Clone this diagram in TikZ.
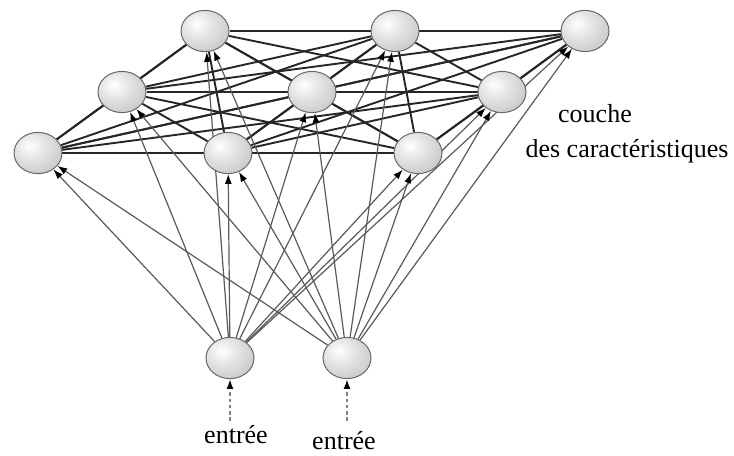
\documentclass[tikz,border=0pt]{standalone}
\usepackage{fontspec}
\setmainfont{Liberation Serif}
\usetikzlibrary{shapes.geometric,arrows.meta,backgrounds}

% shaded ball for the neurons
\pgfdeclareradialshading{boule}{\pgfpoint{-9bp}{9bp}}{%
  color(0bp)=(white); color(16bp)=(gray!22); color(32bp)=(gray!40);
  color(46bp)=(gray!60); color(100bp)=(gray!60)}

\begin{document}
\begin{tikzpicture}[x=0.025cm,y=-0.025cm,
  neurone/.style={ellipse,shading=boule,draw=gray!80!black,line width=0.7pt,
    minimum width=1.2cm,minimum height=1.03cm,inner sep=0pt},
  lien/.style={black!85,line width=1.35pt},
  fleche/.style={black!65,line width=0.85pt,-{Latex[length=7pt,width=5pt,black]}},
  texte/.style={font=\fontsize{18.5}{22}\selectfont}]
	\useasboundingbox (0,0) rectangle (734,455);

	% feature layer, three rows of three
	\foreach \n/\x/\y in {a1/205/31, a2/395/31, a3/585/31,
	                      b1/122/92, b2/312/92, b3/502/92,
	                      c1/38/153, c2/228/153, c3/418/153}
		\node[neurone] (\n) at (\x,\y) {};

	% input neurons
	\node[neurone] (e1) at (230,358) {};
	\node[neurone] (e2) at (347,358) {};
	\coordinate (s1) at (230,421);
	\coordinate (s2) at (347,421);

	\begin{pgfonlayer}{background}
		% lateral links inside the feature layer
		\foreach \u [count=\i] in {a1,a2,a3,b1,b2,b3,c1,c2,c3}{
			\foreach \v [count=\j] in {a1,a2,a3,b1,b2,b3,c1,c2,c3}{
				\ifnum\j>\i \draw[lien] (\u) -- (\v); \fi
			}
		}
		% every input feeds every feature
		\foreach \e in {e1,e2}
			\foreach \n in {a1,a2,a3,b1,b2,b3,c1,c2,c3}
				\draw[fleche] (\e) -- (\n);
	\end{pgfonlayer}

	\draw[fleche,black!50,line width=1.3pt,dash pattern=on 2.5pt off 2pt] (s1) -- (e1);
	\draw[fleche,black!50,line width=1.3pt,dash pattern=on 2.5pt off 2pt] (s2) -- (e2);

	\node[texte] (t1) at (236,435) {entrée};
	\node[texte] (t2) at (344,441) {entrée};
	\node[texte] (couche) at (595,114) {couche};
	\node[texte] (carac) at (627,151) {des caractéristiques};
\end{tikzpicture}
\end{document}
